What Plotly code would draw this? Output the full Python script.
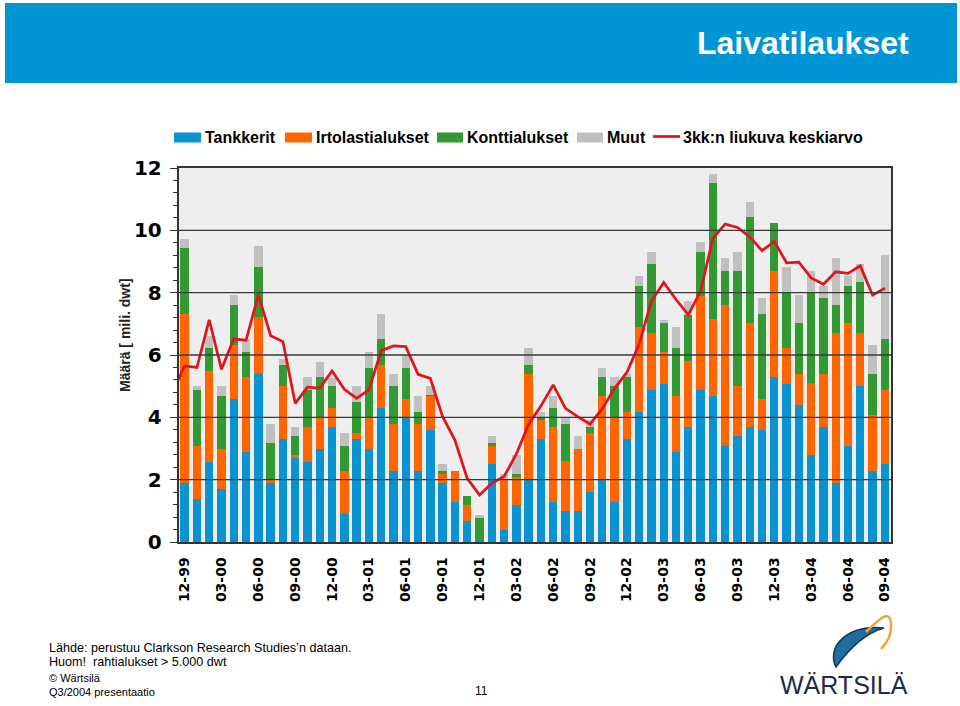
import plotly.graph_objects as go

W, H = 960, 706

# ---------------- data ----------------
tick_labels = ["12-99", "03-00", "06-00", "09-00", "12-00", "03-01", "06-01", "09-01",
               "12-01", "03-02", "06-02", "09-02", "12-02", "03-03", "06-03", "09-03",
               "12-03", "03-04", "06-04", "09-04"]

tankkerit = [1.90, 1.38, 2.58, 1.69, 4.59, 2.89, 5.38, 1.88, 3.29, 2.69, 2.58, 3.00,
             3.68, 0.89, 3.29, 3.00, 4.29, 2.29, 3.99, 2.29, 3.58, 1.90, 1.28, 0.68,
             0.09, 2.49, 0.39, 1.18, 1.99, 3.29, 1.28, 0.98, 0.98, 1.59, 1.99, 1.28,
             3.29, 4.18, 4.89, 5.08, 2.89, 3.68, 4.89, 4.69, 3.09, 3.39, 3.68, 3.59,
             5.29, 5.08, 4.39, 2.79, 3.69, 1.90, 3.09, 4.99, 2.29, 2.49]
irtolasti = [5.42, 1.71, 2.92, 1.31, 1.72, 2.40, 1.85, 0.11, 1.70, 0.11, 1.10, 0.99,
             0.62, 1.40, 0.20, 0.99, 1.39, 1.50, 0.60, 1.50, 1.11, 0.29, 1.01, 0.50,
             0.00, 0.60, 1.60, 0.92, 3.40, 0.61, 2.41, 1.61, 2.02, 1.90, 2.70, 2.71,
             0.89, 2.73, 1.83, 1.03, 1.81, 2.12, 2.99, 2.48, 4.53, 1.60, 3.34, 1.00,
             3.42, 1.14, 0.99, 2.30, 1.69, 4.82, 3.93, 1.73, 1.79, 2.40]
kontti = [2.10, 1.79, 0.72, 1.70, 1.31, 0.82, 1.59, 1.20, 0.70, 0.59, 1.20, 1.30,
          0.69, 0.80, 0.99, 1.60, 0.84, 1.20, 1.00, 0.39, 0.02, 0.10, 0.00, 0.31,
          0.69, 0.10, 0.00, 0.09, 0.30, 0.09, 0.60, 1.20, 0.00, 0.20, 0.60, 1.00,
          1.11, 1.29, 2.20, 0.91, 1.52, 1.49, 1.44, 4.34, 1.09, 3.72, 3.40, 2.72,
          1.51, 1.80, 1.64, 2.93, 2.44, 0.90, 1.20, 1.61, 1.30, 1.63]
muut = [0.30, 0.11, 0.39, 0.29, 0.30, 0.40, 0.69, 0.60, 0.18, 0.30, 0.41, 0.50,
        0.27, 0.40, 0.51, 0.52, 0.80, 0.39, 0.41, 0.51, 0.28, 0.20, 0.00, 0.00,
        0.10, 0.20, 0.20, 0.60, 0.53, 0.19, 0.40, 0.20, 0.39, 0.21, 0.30, 0.30,
        0.09, 0.32, 0.39, 0.11, 0.69, 0.43, 0.29, 0.30, 0.40, 0.60, 0.48, 0.51,
        0.00, 0.80, 0.90, 0.69, 0.40, 1.49, 0.30, 0.58, 0.93, 2.69]
# 3kk:n liukuva keskiarvo, first value = 11-99 (left of the visible range)
keskiarvo = [4.80,
             5.65, 5.60, 7.13, 5.54, 6.52, 6.47, 7.93, 6.62, 6.43, 4.45, 4.97, 4.94,
             5.49, 4.90, 4.61, 4.88, 6.14, 6.29, 6.27, 5.38, 5.25, 4.02, 3.27, 2.04,
             1.51, 1.88, 2.10, 2.82, 3.78, 4.36, 5.04, 4.29, 4.02, 3.78, 4.28, 4.93,
             5.44, 6.35, 7.73, 8.33, 7.78, 7.29, 8.05, 9.74, 10.20, 10.09, 9.79, 9.35,
             9.64, 8.96, 8.98, 8.47, 8.27, 8.67, 8.62, 8.86, 7.92, 8.14]

series_names = ["Tankkerit", "Irtolastialukset", "Konttialukset", "Muut"]
line_name = "3kk:n liukuva keskiarvo"

# ---------------- style ----------------
C_BLUE, C_ORANGE, C_GREEN, C_GRAY, C_RED = "#0A93D1", "#FF6600", "#339933", "#C0C0C0", "#E3141C"
HEADER = "#0096D6"
ARIAL = "Liberation Sans, Arial, sans-serif"
VERD = "DejaVu Sans, Verdana, sans-serif"

PL, PR, PT, PB = 178.5, 891.0, 168.0, 542.0


def px(x):
    return x / W


def py(y):
    return 1 - y / H


n = len(tankkerit)
xs = list(range(n))
line_x = list(range(-1, n))

fig = go.Figure()
for name, vals, col in zip(series_names, [tankkerit, irtolasti, kontti, muut],
                           [C_BLUE, C_ORANGE, C_GREEN, C_GRAY]):
    fig.add_trace(go.Bar(x=xs, y=vals, name=name, marker=dict(color=col, line=dict(width=0)),
                         showlegend=False))
fig.add_trace(go.Scatter(x=line_x, y=keskiarvo, mode="lines", name=line_name,
                         line=dict(color=C_RED, width=2.75), showlegend=False))

tick_idx = [i * 3 for i in range(len(tick_labels))]

fig.update_layout(
    width=W, height=H, autosize=False,
    margin=dict(l=0, r=0, t=0, b=0, pad=0, autoexpand=False),
    paper_bgcolor="white", plot_bgcolor="#EEEEEE",
    barmode="stack", bargap=0.32, showlegend=False,
    xaxis=dict(domain=[px(PL), px(PR)], range=[-0.5, n - 0.5], tickmode="array",
               tickvals=tick_idx, ticktext=tick_labels, tickangle=-90,
               tickfont=dict(family=VERD, size=14, color="black", weight="bold"),
               ticks="", ticklabelstandoff=8, automargin=False,
               showline=True, linecolor="#333333", linewidth=1.5, mirror=True,
               showgrid=False, zeroline=False),
    yaxis=dict(domain=[py(PB), py(PT)], range=[0, 12], tickmode="linear", tick0=0, dtick=2,
               tickfont=dict(family=VERD, size=20, color="black", weight="bold"),
               ticks="outside", ticklen=7, tickcolor="#333333", tickwidth=1,
               ticklabelstandoff=4, automargin=False,
               minor=dict(dtick=0.4, ticks="outside", ticklen=4, tickcolor="#333333", showgrid=False),
               showline=True, linecolor="#333333", linewidth=1.5, mirror=True,
               showgrid=False, zeroline=False),
)

shapes = []
# gridlines drawn above the bars
for v in [2, 4, 6, 8, 10]:
    shapes.append(dict(type="line", xref="x domain", x0=0, x1=1, yref="y", y0=v, y1=v,
                       line=dict(color="#3A3A3A", width=1.4), layer="above"))
# header band
shapes.append(dict(type="rect", xref="paper", yref="paper", x0=px(5), x1=px(957), y0=py(83), y1=py(3),
                   fillcolor=HEADER, line=dict(width=0), layer="below"))

annotations = [dict(text="Laivatilaukset", x=px(911), y=py(43), xref="paper", yref="paper",
                    xanchor="right", yanchor="middle", showarrow=False,
                    font=dict(family=ARIAL, size=32, color="white", weight="bold"))]

# legend (manual)
leg = [("rect", C_BLUE, 174, 201, series_names[0], 205),
       ("rect", C_ORANGE, 285, 312, series_names[1], 316),
       ("rect", C_GREEN, 437, 463, series_names[2], 467),
       ("rect", C_GRAY, 577, 603, series_names[3], 607),
       ("line", C_RED, 653, 680, line_name, 683)]
LY = 137.5
for kind, col, x0, x1, txt, tx in leg:
    if kind == "rect":
        shapes.append(dict(type="rect", xref="paper", yref="paper", x0=px(x0), x1=px(x1),
                           y0=py(LY + 5), y1=py(LY - 5), fillcolor=col, line=dict(width=0)))
    else:
        shapes.append(dict(type="line", xref="paper", yref="paper", x0=px(x0), x1=px(x1),
                           y0=py(LY - 1), y1=py(LY - 1), line=dict(color=col, width=2.75)))
    annotations.append(dict(text=txt, x=px(tx - 2), y=py(LY), xref="paper", yref="paper",
                            xanchor="left", yanchor="middle", showarrow=False,
                            font=dict(family=ARIAL, size=16, color="black", weight="bold")))

# y-axis title
annotations.append(dict(text="Määrä [ mili. dwt]", x=px(125), y=py(335), xref="paper", yref="paper",
                        xanchor="center", yanchor="middle", textangle=-90, showarrow=False,
                        font=dict(family=ARIAL, size=14, color="#222222", weight="bold")))

# footer
footer = [("Lähde: perustuu Clarkson Research Studies’n dataan.", 647.5, 12.6),
          ("Huom!  rahtialukset > 5.000 dwt", 662, 12.6),
          ("© Wärtsilä", 677.5, 11),
          ("Q3/2004 presentaatio", 691.5, 11)]
for txt, yy, sz in footer:
    annotations.append(dict(text=txt, x=px(48), y=py(yy), xref="paper", yref="paper",
                            xanchor="left", yanchor="middle", showarrow=False, borderpad=0,
                            font=dict(family=ARIAL, size=sz, color="black")))
annotations.append(dict(text="11", x=px(481), y=py(691), xref="paper", yref="paper",
                        xanchor="center", yanchor="middle", showarrow=False,
                        font=dict(family=ARIAL, size=12, color="black")))

# Wärtsilä logo


def pth(cmds):
    out = []
    for c in cmds:
        if isinstance(c, str):
            out.append(c)
        else:
            out.append(f"{px(c[0]):.5f},{py(c[1]):.5f}")
    return " ".join(out)


crescent = pth(["M", (836, 667), "C", (826, 648), (846, 624), (884, 628),
                "C", (866, 633), (851, 646), (836, 667), "Z"])
shapes.append(dict(type="path", xref="paper", yref="paper", path=crescent,
                   fillcolor="#1F6F9C", line=dict(color="#16355C", width=1.5)))
arc = pth(["M", (866, 632), "C", (878, 620), (890, 608), (891, 624), "C", (892, 634), (888, 642), (881, 649)])
shapes.append(dict(type="path", xref="paper", yref="paper", path=arc,
                   line=dict(color="#F0A536", width=2.5)))
annotations.append(dict(text="WÄRTSILÄ", x=px(844), y=py(685), xref="paper", yref="paper",
                        xanchor="center", yanchor="middle", showarrow=False,
                        font=dict(family=ARIAL, size=25, color="#1C2B4A")))

fig.update_layout(shapes=shapes, annotations=annotations)
fig.write_html("out.html", config={"displayModeBar": False},
               post_script="document.body.style.margin='0';document.body.style.padding='0';"
                           "document.body.style.overflow='hidden';")
